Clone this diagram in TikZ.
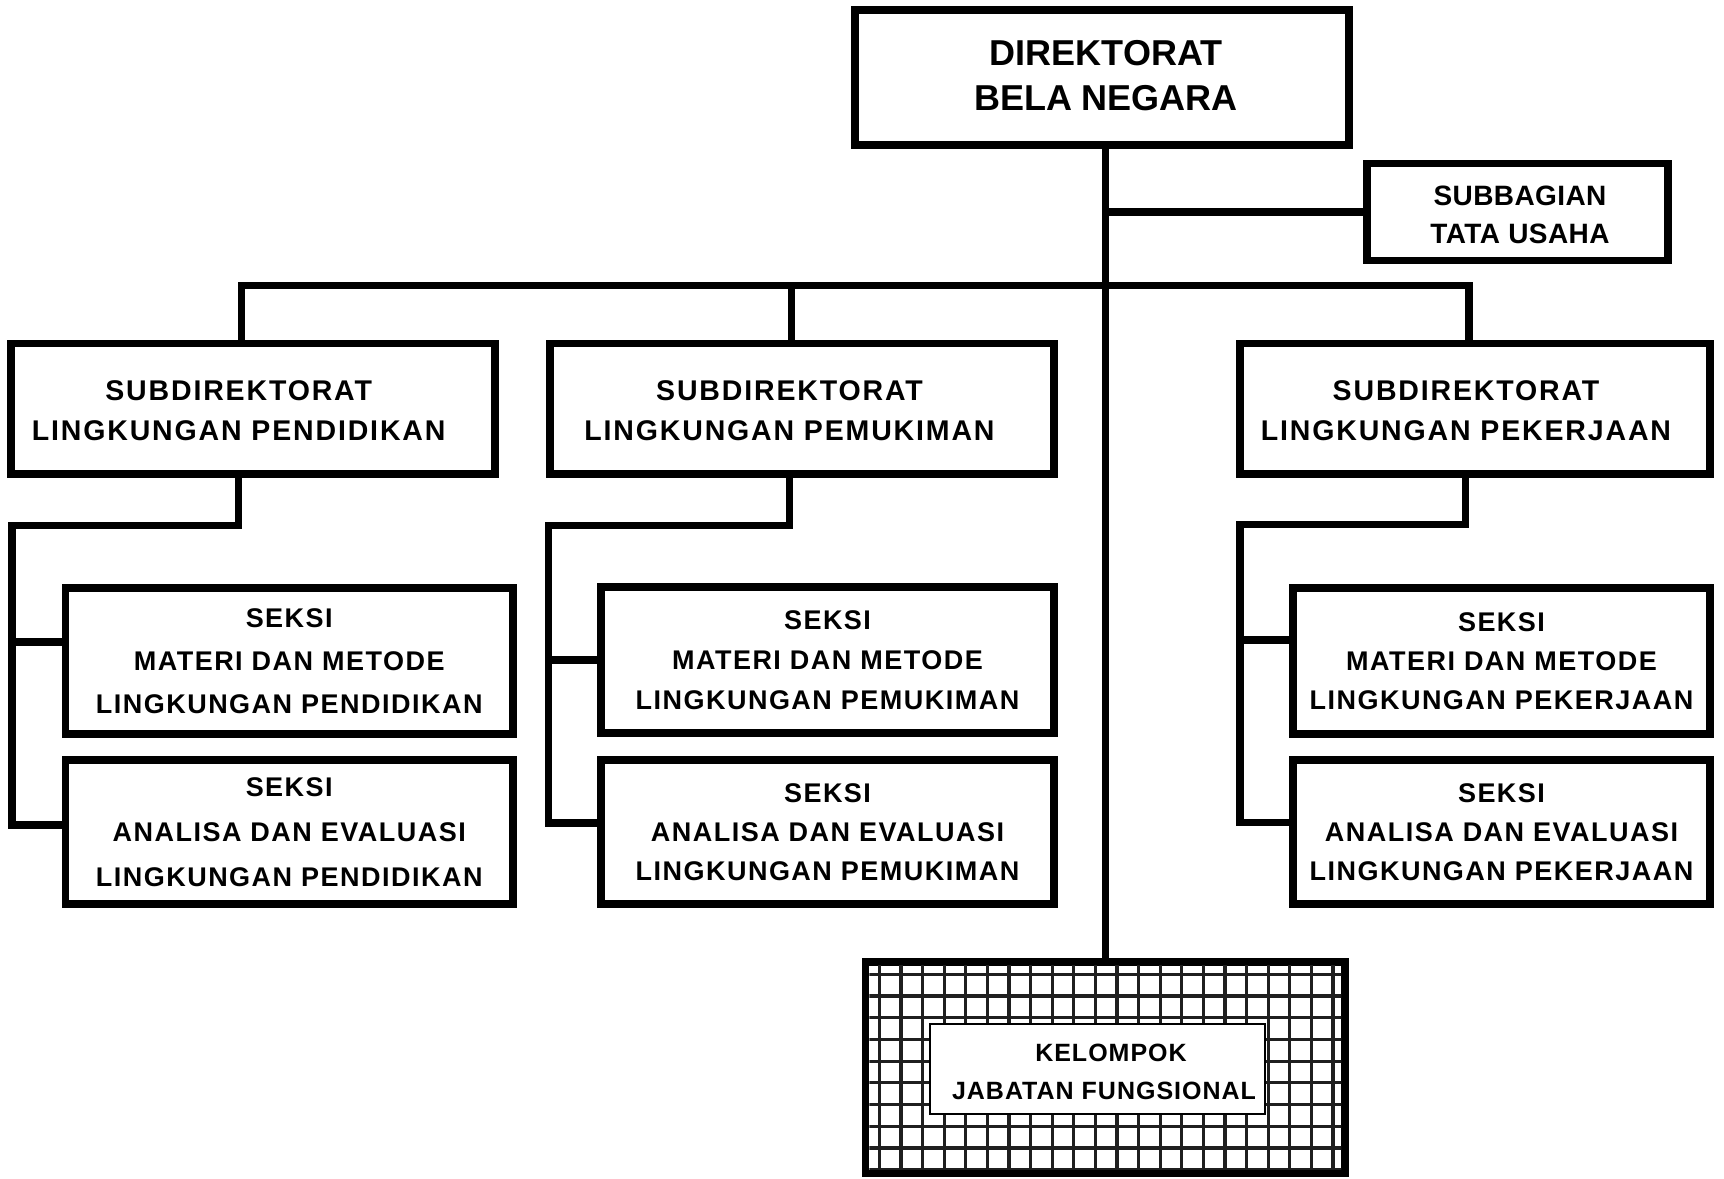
\documentclass[tikz,border=0pt]{standalone}
\usepackage{fontspec}
\setmainfont{Liberation Sans}
\newcommand{\txtfont}[3]{\fontsize{#1pt}{#2pt}\bfseries\addfontfeature{LetterSpace=#3}}
\begin{document}
\begin{tikzpicture}[x=1pt,y=-1pt,
  box/.style={draw, line width=7.5pt, fill=white, inner sep=0pt, outer sep=0pt, anchor=center},
  sz/.style 2 args={minimum width=#1pt, minimum height=#2pt},
  wire/.style={line width=7.5pt},
  lbl/.style={align=center, inner sep=0pt, anchor=center},
  gridln/.style={line width=3.2pt, black!88}]
\fill[white] (0,0) rectangle (1724,1178);
\useasboundingbox (0,0) rectangle (1724,1178);

% boxes
\node[box, sz={494}{135}] (dir) at (1102,77.5) {};
\node[box, sz={301}{97}] (sub) at (1517.5,212) {};
\node[box, sz={484}{130.7}] (sd1) at (253,408.65) {};
\node[box, sz={504}{130.7}] (sd2) at (802,408.65) {};
\node[box, sz={470}{130.7}] (sd3) at (1475,408.65) {};
\node[box, sz={447.5}{146}] (sL1) at (289.25,661) {};
\node[box, sz={447.5}{144}] (sL2) at (289.25,832) {};
\node[box, sz={453}{146}] (sM1) at (827.5,660) {};
\node[box, sz={453}{144}] (sM2) at (827.5,832) {};
\node[box, sz={417}{146}] (sR1) at (1501.5,661) {};
\node[box, sz={417}{144}] (sR2) at (1501.5,832) {};
\node[box, fill=none, sz={479.5}{211.5}] (kel) at (1105.25,1067.75) {};

% grid pattern
\begin{scope}
\clip ([shift={(3.75,3.75)}]kel.north west) rectangle ([shift={(-3.75,-3.75)}]kel.south east);
\foreach \k in {0,...,21} \draw[gridln] ({879.3+21.6*\k},950) -- ({879.3+21.6*\k},1180);
\foreach \k in {0,...,9} \draw[gridln] (860,{974.3+21.7*\k}) -- (1350,{974.3+21.7*\k});
\end{scope}
\node[draw, line width=2pt, fill=white, inner sep=0pt, sz={335}{90}] (kin) at (1097.5,1069) {};

% connectors
\coordinate (busL) at (241.7,285.5);
\coordinate (busM) at (791.6,285.5);
\coordinate (busR) at (1469,285.5);
\draw[wire] (dir.south -| kel.north) -- (kel.north);
\draw[wire] (sub.west -| kel.north) -- (sub.west);
\draw[wire] (busL |- sd1.north) -- (busL) -- (busR) -- (busR |- sd3.north);
\draw[wire] (busM) -- (busM |- sd2.north);

\coordinate (lT) at (238.7,525.5); \coordinate (lC) at (12,525.5);
\coordinate (lB) at (12,825); \coordinate (lA) at (12,642);
\draw[wire] (lT |- sd1.south) -- (lT) -- (lC) -- (lB) -- (lB -| sL2.west);
\draw[wire] (lA) -- (lA -| sL1.west);

\coordinate (mT) at (789.5,525.5); \coordinate (mC) at (548.7,525.5);
\coordinate (mB) at (548.7,823); \coordinate (mA) at (548.7,660);
\draw[wire] (mT |- sd2.south) -- (mT) -- (mC) -- (mB) -- (mB -| sM2.west);
\draw[wire] (mA) -- (mA -| sM1.west);

\coordinate (rT) at (1465.6,524.5); \coordinate (rC) at (1240,524.5);
\coordinate (rB) at (1240,822.5); \coordinate (rA) at (1240,640);
\draw[wire] (rT |- sd3.south) -- (rT) -- (rC) -- (rB) -- (rB -| sR2.west);
\draw[wire] (rA) -- (rA -| sR1.west);

% texts
\node[lbl, font=\txtfont{36}{45}{0}] (dirt) at (1106,75.5) {DIREKTORAT\\BELA NEGARA};
\node[lbl, font=\txtfont{28}{38}{1.5}] (subt) at (1520,215) {SUBBAGIAN\\TATA USAHA};
\node[lbl, font=\txtfont{28.5}{40}{6.5}] (sd1t) at (238.7,411) {SUBDIREKTORAT\\LINGKUNGAN PENDIDIKAN};
\node[lbl, font=\txtfont{28.5}{40}{6.5}] (sd2t) at (789.5,411) {SUBDIREKTORAT\\LINGKUNGAN PEMUKIMAN};
\node[lbl, font=\txtfont{28.5}{40}{6.5}] (sd3t) at (1466,411) {SUBDIREKTORAT\\LINGKUNGAN PEKERJAAN};
\node[lbl, font=\txtfont{27}{43}{5.5}] (sL1t) at (sL1) {SEKSI\\MATERI DAN METODE\\LINGKUNGAN PENDIDIKAN};
\node[lbl, font=\txtfont{27}{45}{5.5}] (sL2t) at (sL2) {SEKSI\\ANALISA DAN EVALUASI\\LINGKUNGAN PENDIDIKAN};
\node[lbl, font=\txtfont{27}{40}{5.5}] (sM1t) at (sM1) {SEKSI\\MATERI DAN METODE\\LINGKUNGAN PEMUKIMAN};
\node[lbl, font=\txtfont{27}{39}{5.5}] (sM2t) at (sM2) {SEKSI\\ANALISA DAN EVALUASI\\LINGKUNGAN PEMUKIMAN};
\node[lbl, font=\txtfont{27}{39}{5.5}] (sR1t) at (sR1) {SEKSI\\MATERI DAN METODE\\LINGKUNGAN PEKERJAAN};
\node[lbl, font=\txtfont{27}{39}{5.5}] (sR2t) at (sR2) {SEKSI\\ANALISA DAN EVALUASI\\LINGKUNGAN PEKERJAAN};
\node[lbl, font=\txtfont{25}{38}{4}] (kelt) at (1104,1071.5) {\hspace*{14pt}KELOMPOK\\JABATAN FUNGSIONAL};
\end{tikzpicture}
\end{document}
